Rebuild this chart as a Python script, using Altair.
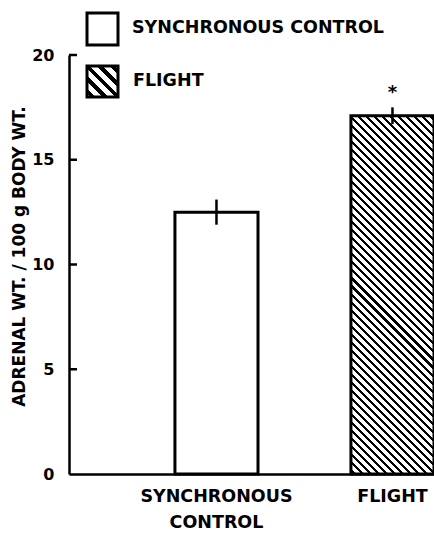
import altair as alt
import pandas as pd

# ---- data ----
categories = ["SYNCHRONOUS CONTROL", "FLIGHT"]
means = [12.5, 17.1]
sems = [0.6, 0.4]
signif = ["", "*"]
y_ticks = [0, 5, 10, 15, 20]

df = pd.DataFrame({"group": categories, "mean": means, "sem": sems, "sig": signif})
ticks_df = pd.DataFrame({"tick": y_ticks})

# ---- layout / style constants ----
FONT = "DejaVu Sans"
W, H = 365, 419
P_IN, P_OUT = 0.528, 0.301
step = W / (len(categories) - P_IN + 2 * P_OUT)
bar_w = step * (1 - P_IN)
bar_h = means[1] / 20 * H


def hatch(w, h, spacing, frac=0.38):
    """Diagonal (\\) stripes as a hard-stop linear gradient in bbox units."""
    span = w + h
    n = max(1, round(span / spacing))
    d = w * w + h * h
    x2 = 1 - w * span / d
    y2 = h * span / d
    stops = []
    for k in range(n):
        a = round(k / n + 0.5 * (1 - frac) / n, 5)
        b = round(a + frac / n, 5)
        stops += [
            alt.GradientStop(offset=a, color="white"),
            alt.GradientStop(offset=a, color="black"),
            alt.GradientStop(offset=b, color="black"),
            alt.GradientStop(offset=b, color="white"),
        ]
    stops = [alt.GradientStop(offset=0, color="white")] + stops + [alt.GradientStop(offset=1, color="white")]
    return alt.LinearGradient(gradient="linear", x1=1, y1=0, x2=x2, y2=y2, stops=stops)


x_enc = alt.X(
    "group:N",
    sort=categories,
    scale=alt.Scale(paddingInner=P_IN, paddingOuter=P_OUT, align=1),
    axis=alt.Axis(
        title=None,
        ticks=False,
        labelAngle=0,
        labelFont=FONT,
        labelFontWeight="bold",
        labelFontSize=17.5,
        labelColor="black",
        labelPadding=13,
        labelLineHeight=26,
        labelExpr="datum.value == 'SYNCHRONOUS CONTROL' ? ['SYNCHRONOUS', 'CONTROL'] : datum.value",
        domainColor="black",
        domainWidth=2.5,
    ),
)
y_scale = alt.Scale(domain=[0, 20], nice=False)
y_enc = alt.Y(
    "mean:Q",
    scale=y_scale,
    axis=alt.Axis(
        title="ADRENAL WT. / 100 g BODY WT.",
        values=y_ticks,
        ticks=False,
        grid=False,
        labelFont=FONT,
        labelFontWeight="bold",
        labelFontSize=16,
        labelColor="black",
        labelPadding=15,
        domainColor="black",
        domainWidth=2.5,
        titleFont=FONT,
        titleFontWeight="bold",
        titleFontSize=17,
        titleColor="black",
        titleX=-50,
        titleY=201,
        titleAngle=270,
        titleAlign="center",
        titleBaseline="middle",
    ),
)

base = alt.Chart(df)

control_bar = base.transform_filter(alt.datum.group == categories[0]).mark_bar(
    fill="white", stroke="black", strokeWidth=3
).encode(x=x_enc, y=y_enc)

flight_bar = base.transform_filter(alt.datum.group == categories[1]).mark_bar(
    fill=hatch(bar_w, bar_h, 8), stroke="black", strokeWidth=3
).encode(x=x_enc, y=y_enc)

err = base.transform_calculate(
    lo="datum.mean - datum.sem", hi="datum.mean + datum.sem"
).mark_rule(color="black", strokeWidth=2.5).encode(
    x=alt.X("group:N", sort=categories),
    y=alt.Y("lo:Q", scale=y_scale),
    y2="hi:Q",
)

star = base.transform_calculate(hi="datum.mean + datum.sem").mark_text(
    font=FONT, fontSize=18, fontWeight="bold", color="black", baseline="middle", dy=-14
).encode(
    x=alt.X("group:N", sort=categories),
    y=alt.Y("hi:Q", scale=y_scale),
    text="sig:N",
)

inner_ticks = alt.Chart(ticks_df).transform_filter(alt.datum.tick > 0).mark_rule(
    color="black", strokeWidth=2.5
).encode(y=alt.Y("tick:Q", scale=y_scale), x=alt.value(0), x2=alt.value(8))

legend_box1 = base.transform_filter(alt.datum.group == categories[0]).mark_rect(
    fill="white", stroke="black", strokeWidth=3
).encode(x=alt.value(18), x2=alt.value(49), y=alt.value(-42), y2=alt.value(-10))

legend_box2 = base.transform_filter(alt.datum.group == categories[1]).mark_rect(
    fill=hatch(31, 31, 12, 0.42), stroke="black", strokeWidth=3
).encode(x=alt.value(18), x2=alt.value(49), y=alt.value(11), y2=alt.value(42))

legend_txt1 = base.transform_filter(alt.datum.group == categories[0]).mark_text(
    font=FONT, fontSize=17.5, fontWeight="bold", color="black", align="left", baseline="middle"
).encode(x=alt.value(63), y=alt.value(-27), text="group:N")

legend_txt2 = base.transform_filter(alt.datum.group == categories[1]).mark_text(
    font=FONT, fontSize=17.5, fontWeight="bold", color="black", align="left", baseline="middle"
).encode(x=alt.value(64), y=alt.value(26), text="group:N")

chart = alt.layer(
    control_bar, flight_bar, err, star, inner_ticks,
    legend_box1, legend_box2, legend_txt1, legend_txt2,
).properties(
    width=W,
    height=H,
    autosize=alt.AutoSizeParams(type="none"),
    padding={"left": 69, "top": 55, "right": 0, "bottom": 60},
    background="white",
).configure_view(stroke=None)

chart.save("out.html", embed_options={"renderer": "svg", "actions": False})
